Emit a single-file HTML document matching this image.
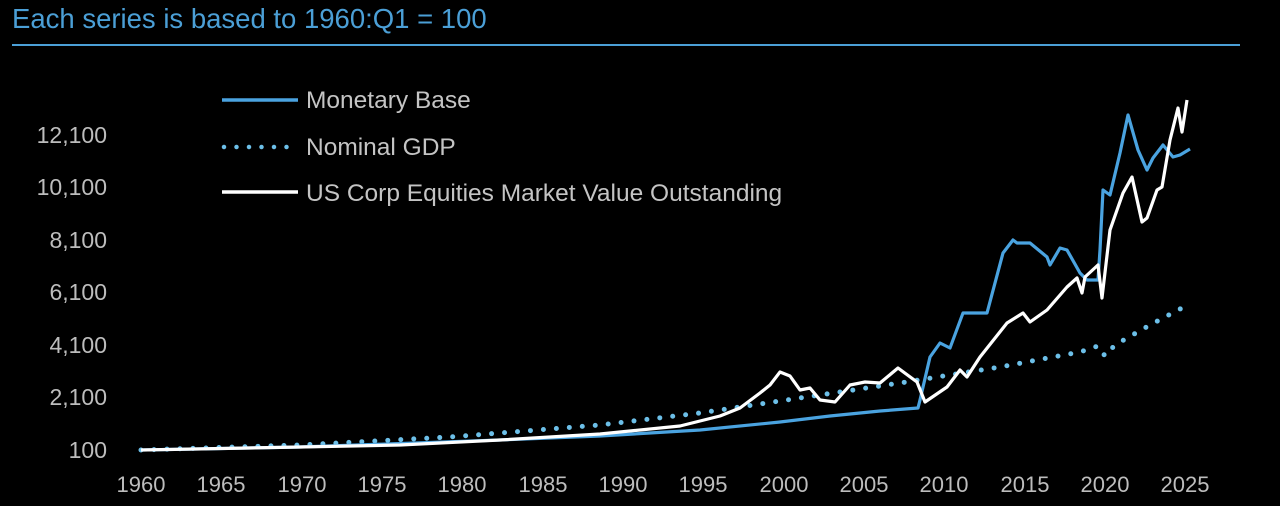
<!DOCTYPE html>
<html><head><style>
body{margin:0;background:#000;width:1280px;height:501px;overflow:hidden}
text{font-family:"Liberation Sans",sans-serif}
</style></head><body>
<svg width="1280" height="501" viewBox="0 0 1280 501">
<rect width="1280" height="501" fill="#000"/>
<text x="12" y="28" font-size="27.5" fill="#4b9fd6">Each series is based to 1960:Q1 = 100</text>
<line x1="12" y1="45" x2="1240" y2="45" stroke="#4b9fd6" stroke-width="2"/>
<g font-size="23" fill="#bdbdbd" text-anchor="end">
<text x="107" y="143">12,100</text><text x="107" y="195">10,100</text>
<text x="107" y="248">8,100</text><text x="107" y="300">6,100</text>
<text x="107" y="353">4,100</text><text x="107" y="405">2,100</text>
<text x="107" y="458">100</text>
</g>
<g font-size="22" fill="#bdbdbd" text-anchor="middle">
<text x="141" y="492">1960</text><text x="221" y="492">1965</text><text x="302" y="492">1970</text>
<text x="382" y="492">1975</text><text x="462" y="492">1980</text><text x="543" y="492">1985</text>
<text x="623" y="492">1990</text><text x="703" y="492">1995</text><text x="784" y="492">2000</text>
<text x="864" y="492">2005</text><text x="944" y="492">2010</text><text x="1025" y="492">2015</text>
<text x="1105" y="492">2020</text><text x="1185" y="492">2025</text>
</g>
<line x1="222" y1="100" x2="298" y2="100" stroke="#4aa3e0" stroke-width="3.5"/>
<line x1="224" y1="147" x2="298" y2="147" stroke="#6cbfe8" stroke-width="4.5" stroke-linecap="round" stroke-dasharray="0 12.5"/>
<line x1="222" y1="192" x2="298" y2="192" stroke="#fff" stroke-width="3.5"/>
<g font-size="24.5" fill="#c4c4c4">
<text x="306" y="108">Monetary Base</text>
<text x="306" y="155">Nominal GDP</text>
<text x="306" y="201">US Corp Equities Market Value Outstanding</text>
</g>
<polyline fill="none" stroke="#6cbfe8" stroke-width="5" stroke-linecap="round" stroke-dasharray="0 13"
points="141,450 300,445 450,437 600,425 700,413 800,398 900,383 1000,367 1080,352 1098,346 1105,356 1115,345 1150,325 1182,308"/>
<polyline fill="none" stroke="#4aa3e0" stroke-width="3.2" stroke-linejoin="round"
points="141,450 300,447 500,440 600,436 700,430 780,422 830,416 880,411 918,408 920,400 930,357 940,343 950,348 963,313 987,313 1003,253 1013,240 1017,243 1030,243 1047,257 1050,265 1060,248 1067,250 1080,273 1087,280 1098,280 1100,250 1103,190 1110,195 1120,153 1128,115 1138,150 1147,170 1153,158 1163,145 1173,157 1180,155 1190,149"/>
<polyline fill="none" stroke="#fff" stroke-width="3.2" stroke-linejoin="round"
points="141,450 300,447 400,445 500,440 600,434 680,426 720,416 740,408 760,393 770,385 780,372 790,376 800,390 810,388 820,400 835,402 850,385 865,382 880,383 898,368 917,382 925,402 947,387 960,370 967,377 980,357 1007,323 1023,313 1030,322 1047,310 1067,287 1077,278 1082,293 1085,277 1098,265 1102,298 1110,230 1123,193 1132,177 1142,222 1147,218 1157,190 1162,187 1170,140 1178,108 1182,132 1187,100"/>
</svg>
</body></html>
